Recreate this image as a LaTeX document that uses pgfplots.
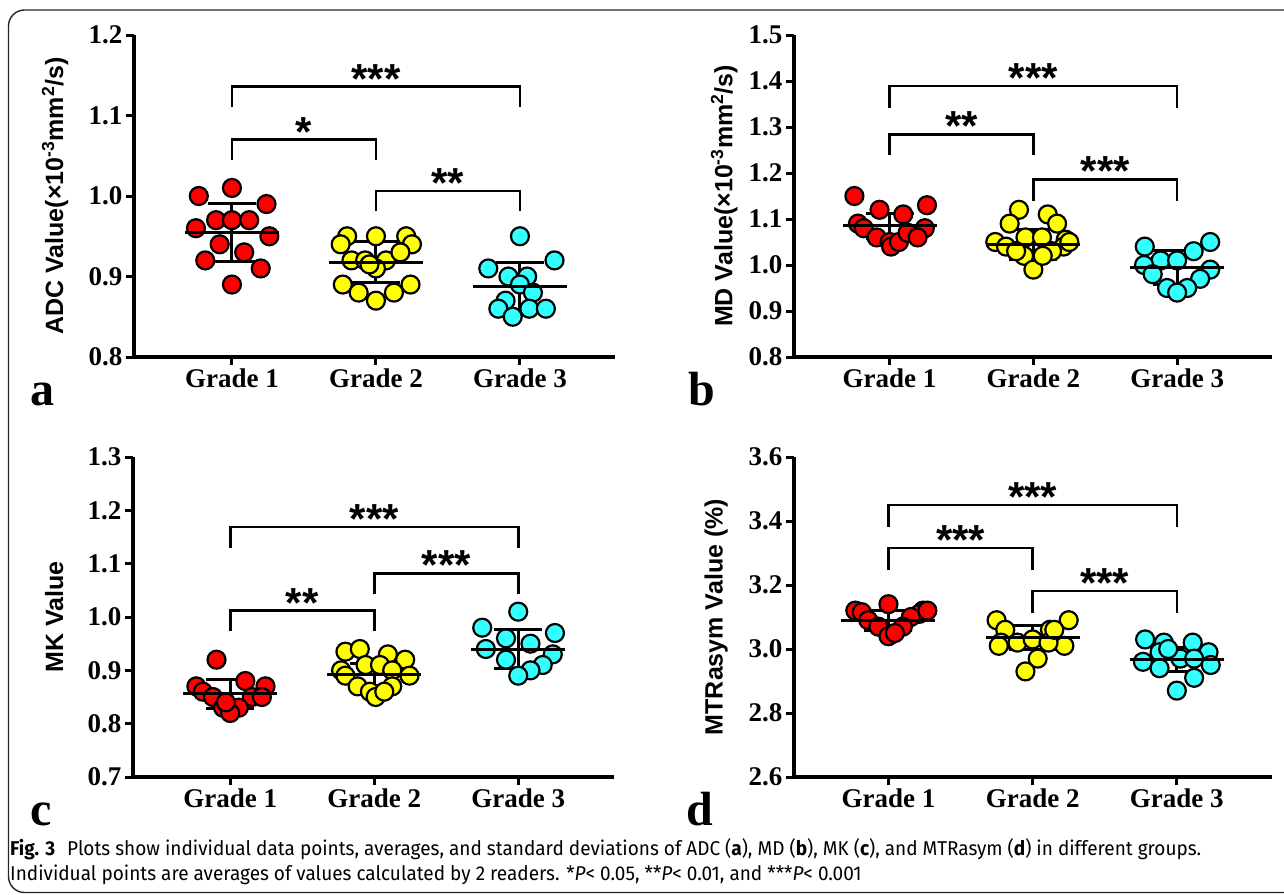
\documentclass[border=0pt]{standalone}
\usepackage{fontspec}
\usepackage{pgfplots}
\pgfplotsset{compat=1.18}
\setmainfont{Liberation Serif}
\newfontfamily\lsans{Liberation Sans}
\newfontfamily\capfont[FakeStretch=0.95]{Fira Sans}
\definecolor{cred}{RGB}{255,0,0}
\definecolor{cyel}{RGB}{255,255,0}
\definecolor{ccya}{RGB}{51,255,255}
\newcommand\tickf{\fontsize{27}{30}\selectfont\bfseries}
\newcommand\ylabf{\lsans\fontsize{25}{28}\selectfont\bfseries}
\newcommand\starf{\lsans\fontsize{42}{42}\selectfont\bfseries}
\newcommand\letterf{\fontsize{48}{48}\selectfont\bfseries}
\tikzset{brk/.style={line width=2.6pt, black}}
\pgfplotsset{
  panel/.style={
    scale only axis, anchor=south west, clip=false,
    axis x line=bottom, axis y line=left,
    axis line style={line width=3.2pt,-},
    xtick={0,1,2}, xticklabels={Grade 1,Grade 2,Grade 3},
    tick align=outside, major tick length=8pt,
    tick style={line width=3pt,black},
    tick label style={font=\tickf},
    yticklabel style={/pgf/number format/fixed,/pgf/number format/fixed zerofill,/pgf/number format/precision=1,/pgf/number format/assume math mode=true},
    ylabel style={font=\ylabf, at={(axis description cs:-0.164,0.5)}, anchor=center},
  },
  pts/.style={only marks, mark=*, mark size=9pt, mark options={fill=#1, draw=black, line width=2.2pt}},
  msd/.style={only marks, mark=-, mark size=47pt, mark options={line width=3pt, black},
    error bars/.cd, y dir=both, y explicit,
    error bar style={line width=3pt, black},
    error mark options={rotate=90, mark size=24pt, line width=3pt, black}},
}
\newcommand\bracket[4]{% x1, x2, legbottom, top
  \draw[brk] (axis cs:#1,#3) -- (axis cs:#1,#4) -- (axis cs:#2,#4) -- (axis cs:#2,#3);}
\newcommand\stars[3]{\node[font=\starf, anchor=base, yshift=-6.5pt, inner sep=0pt] at (axis cs:#1,#2) {#3};}
\begin{document}
\begin{tikzpicture}
\useasboundingbox (0,0) rectangle (1284pt,-894pt);
\draw[line width=1.4pt, black!85, rounded corners=16pt] (1320pt,-892.5pt) -- (8.5pt,-892.5pt) -- (8.5pt,-10pt) -- (1320pt,-10pt);

% ---------- panel a ----------
\begin{axis}[panel, at={(134pt,-357pt)}, width=481pt, height=322pt,
  xmin=-0.68, xmax=2.66, ymin=0.8, ymax=1.2, ytick={0.8,0.9,1.0,1.1,1.2},
  ylabel={ADC Value(×10\textsuperscript{-3}mm\textsuperscript{2}/s)}]
\addplot[pts=cred] coordinates {(-0.23,1.00) (0,1.01) (0.24,0.99) (-0.25,0.96) (-0.11,0.97) (0,0.97) (0.12,0.97) (0.26,0.95) (-0.085,0.94) (0.085,0.93) (-0.185,0.92) (0.2,0.91) (0,0.89)};
\addplot[pts=cyel] coordinates {(0.8,0.95) (1,0.95) (1.21,0.95) (0.755,0.94) (1.25,0.94) (0.83,0.92) (0.925,0.92) (1.07,0.92) (1.17,0.93) (1,0.91) (0.955,0.915) (0.77,0.89) (1.24,0.89) (0.88,0.88) (1.125,0.88) (1,0.87)};
\addplot[pts=ccya] coordinates {(2,0.95) (2.24,0.92) (1.78,0.91) (1.92,0.90) (2.05,0.90) (2,0.89) (2.09,0.88) (1.9,0.87) (1.85,0.86) (2.065,0.86) (2.18,0.86) (1.95,0.85)};
\addplot[msd] coordinates {(0,0.955) +- (0,0.036) (1,0.918) +- (0,0.025) (2,0.887) +- (0,0.030)};
\bracket{0}{2}{1.110}{1.136}\stars{1}{1.136}{***}
\bracket{0}{1}{1.045}{1.070}\stars{0.5}{1.070}{*}
\bracket{1}{2}{0.981}{1.006}\stars{1.5}{1.006}{**}
\end{axis}

% ---------- panel b ----------
\begin{axis}[panel, at={(794pt,-357pt)}, width=478pt, height=322pt,
  xmin=-0.665, xmax=2.66, ymin=0.8, ymax=1.5, ytick={0.8,0.9,1.0,1.1,1.2,1.3,1.4,1.5},
  ylabel style={at={(axis description cs:-0.146,0.5)}},
  ylabel={MD Value(×10\textsuperscript{-3}mm\textsuperscript{2}/s)}]
\addplot[pts=cred] coordinates {(-0.245,1.15) (-0.07,1.12) (0.095,1.11) (0.26,1.13) (-0.22,1.09) (-0.18,1.08) (-0.09,1.06) (0,1.05) (0.01,1.04) (0.065,1.05) (0.125,1.07) (0.245,1.08) (0.195,1.06)};
\addplot[pts=cyel] coordinates {(0.9,1.12) (1.1,1.11) (0.835,1.09) (1.165,1.09) (0.735,1.05) (0.81,1.04) (0.945,1.06) (1.06,1.06) (1.225,1.055) (1.21,1.04) (1.13,1.03) (0.935,1.02) (1,0.99) (1.065,1.02) (0.88,1.03) (1.25,1.05)};
\addplot[pts=ccya] coordinates {(1.775,1.04) (2.23,1.05) (2.115,1.03) (1.885,1.01) (2,1.01) (1.77,1.00) (2.23,0.99) (1.83,0.98) (2.16,0.97) (1.93,0.95) (2.07,0.95) (2,0.94)};
\addplot[msd] coordinates {(0,1.085) +- (0,0.028) (1,1.045) +- (0,0.033) (2,0.994) +- (0,0.037)};
\bracket{0}{2}{1.342}{1.389}\stars{1}{1.389}{***}
\bracket{0}{1}{1.239}{1.284}\stars{0.5}{1.284}{**}
\bracket{1}{2}{1.139}{1.186}\stars{1.5}{1.186}{***}
\end{axis}

% ---------- panel c ----------
\begin{axis}[panel, at={(133pt,-777pt)}, width=481pt, height=320pt,
  xmin=-0.675, xmax=2.665, ymin=0.7, ymax=1.3, ytick={0.7,0.8,0.9,1.0,1.1,1.2,1.3},
  ylabel={MK Value}]
\addplot[pts=cred] coordinates {(-0.095,0.92) (-0.235,0.87) (0.105,0.88) (0.245,0.87) (-0.19,0.86) (-0.12,0.85) (0.15,0.85) (0.22,0.85) (-0.05,0.83) (0.06,0.83) (0,0.82) (-0.03,0.84)};
\addplot[pts=cyel] coordinates {(0.8,0.935) (0.9,0.94) (1.095,0.93) (1.215,0.92) (0.77,0.90) (0.94,0.91) (1.04,0.91) (1.125,0.90) (1.245,0.89) (0.8,0.89) (0.885,0.87) (1.125,0.87) (0.97,0.86) (1.01,0.85) (1.07,0.86)};
\addplot[pts=ccya] coordinates {(2,1.01) (1.75,0.98) (2.255,0.97) (1.915,0.96) (2.085,0.95) (1.775,0.94) (2.24,0.93) (1.915,0.92) (2.17,0.91) (2.085,0.90) (2,0.89)};
\addplot[msd] coordinates {(0,0.856) +- (0,0.027) (1,0.892) +- (0,0.020) (2,0.940) +- (0,0.036)};
\bracket{0}{2}{1.130}{1.169}\stars{1}{1.169}{***}
\bracket{1}{2}{1.043}{1.082}\stars{1.5}{1.082}{***}
\bracket{0}{1}{0.974}{1.012}\stars{0.5}{1.012}{**}
\end{axis}

% ---------- panel d ----------
\begin{axis}[panel, at={(794pt,-777pt)}, width=478pt, height=320pt,
  xmin=-0.655, xmax=2.66, ymin=2.6, ymax=3.6, ytick={2.6,2.8,3.0,3.2,3.4,3.6},
  ylabel style={at={(axis description cs:-0.163,0.5)}},
  ylabel={MTRasym Value (\%)}]
\addplot[pts=cred] coordinates {(0,3.14) (-0.23,3.12) (-0.185,3.115) (0.24,3.12) (0.215,3.11) (-0.14,3.09) (0.155,3.10) (-0.07,3.07) (0.1,3.07) (0,3.04) (0.045,3.05) (0.27,3.12)};
\addplot[pts=cyel] coordinates {(0.75,3.09) (1.25,3.09) (1.12,3.06) (0.81,3.06) (0.78,3.02) (0.895,3.02) (1,3.03) (1.22,3.01) (0.765,3.01) (1.11,3.02) (1.035,2.97) (0.95,2.93) (1.15,3.06)};
\addplot[pts=ccya] coordinates {(1.78,3.03) (1.91,3.02) (2.11,3.02) (2.22,2.99) (1.88,2.99) (1.765,2.96) (2.025,2.97) (2.12,2.97) (2.235,2.95) (1.88,2.94) (2.12,2.91) (2,2.87) (1.94,3.00)};
\addplot[msd] coordinates {(0,3.089) +- (0,0.030) (1,3.037) +- (0,0.037) (2,2.967) +- (0,0.038)};
\bracket{0}{2}{3.382}{3.450}\stars{1}{3.450}{***}
\bracket{0}{1}{3.247}{3.316}\stars{0.5}{3.316}{***}
\bracket{1}{2}{3.112}{3.181}\stars{1.5}{3.181}{***}
\end{axis}

% panel letters
\node[anchor=base west, font=\letterf, inner sep=0pt] at (30pt,-405pt) {a};
\node[anchor=base west, font=\letterf, inner sep=0pt] at (688pt,-405pt) {b};
\node[anchor=base west, font=\letterf, inner sep=0pt] at (30pt,-825pt) {c};
\node[anchor=base west, font=\letterf, inner sep=0pt] at (686pt,-825pt) {d};

% caption
\node[anchor=base west, inner sep=0pt, font=\capfont\fontsize{20}{24}\selectfont] at (10pt,-855pt)
 {\textbf{Fig. 3}\hspace{0.6em}Plots show individual data points, averages, and standard deviations of ADC (\textbf{a}), MD (\textbf{b}), MK (\textbf{c}), and MTRasym (\textbf{d}) in different groups.};
\node[anchor=base west, inner sep=0pt, font=\capfont\fontsize{20}{24}\selectfont] at (10pt,-880pt)
 {Individual points are averages of values calculated by 2 readers. *\textit{P}<~0.05, **\textit{P}<~0.01, and ***\textit{P}<~0.001};
\end{tikzpicture}
\end{document}
